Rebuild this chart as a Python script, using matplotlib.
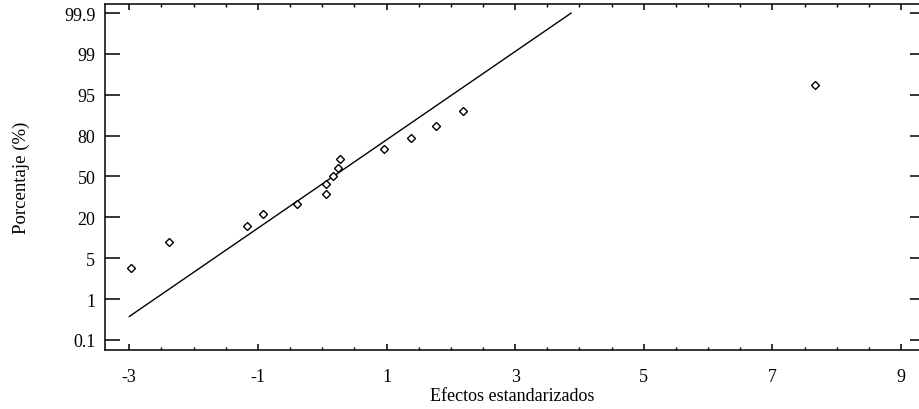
import numpy as np
import matplotlib
matplotlib.use('Agg')
import matplotlib.pyplot as plt
from matplotlib.ticker import MultipleLocator, NullLocator
from statistics import NormalDist

# efectos estandarizados y su porcentaje acumulado
efectos = [-2.98, -2.38, -1.165, -0.92, -0.40, 0.06, 0.06, 0.17, 0.25, 0.27,
           0.955, 1.38, 1.77, 2.195, 7.665]
porcentajes = [3.5, 9.2, 15.4, 21.7, 28.6, 35.6, 43.6, 50.0, 57.0, 64.4,
               71.4, 78.6, 84.8, 90.8, 96.5]
# recta de referencia
recta_x = [-3.0, 3.87]
recta_y = [0.4, 99.9]
marcas_y = [0.1, 1, 5, 20, 50, 80, 95, 99, 99.9]
etiquetas_y = ['0.1', '1', '5', '20', '50', '80', '95', '99', '99.9']
marcas_x = [-3, -1, 1, 3, 5, 7, 9]

plt.rcParams['font.family'] = ['Liberation Serif', 'DejaVu Serif']

# escala de probabilidad normal: las marcas quedan equiespaciadas
nd = NormalDist()
z_marcas = np.array([nd.inv_cdf(p / 100) for p in marcas_y])
pos_marcas = np.arange(len(marcas_y), dtype=float)


def a_pos(p):
    p = np.asarray(p, dtype=float)
    forma = p.shape
    p = np.clip(np.atleast_1d(p).ravel(), 1e-7, 100 - 1e-7)
    z = np.array([nd.inv_cdf(v / 100) if np.isfinite(v) else np.nan for v in p])
    pos = np.interp(z, z_marcas, pos_marcas)
    bajo = z < z_marcas[0]
    pos[bajo] = (z[bajo] - z_marcas[0]) / (z_marcas[1] - z_marcas[0])
    alto = z > z_marcas[-1]
    pos[alto] = pos_marcas[-1] + (z[alto] - z_marcas[-1]) / (z_marcas[-1] - z_marcas[-2])
    return pos.reshape(forma)


def a_pct(q):
    q = np.asarray(q, dtype=float)
    forma = q.shape
    q = np.atleast_1d(q).ravel()
    z = np.interp(q, pos_marcas, z_marcas)
    bajo = q < 0
    z[bajo] = z_marcas[0] + q[bajo] * (z_marcas[1] - z_marcas[0])
    alto = q > pos_marcas[-1]
    z[alto] = z_marcas[-1] + (q[alto] - pos_marcas[-1]) * (z_marcas[-1] - z_marcas[-2])
    p = np.array([nd.cdf(v) * 100 if np.isfinite(v) else np.nan for v in z])
    return p.reshape(forma)


fig = plt.figure(figsize=(9.19, 4.10), dpi=100)
ax = fig.add_axes([105 / 919, 59.3 / 410, 820 / 919, 346 / 410])
ax.set_yscale('function', functions=(a_pos, a_pct))

ax.plot(recta_x, recta_y, color='black', lw=1.0)
ax.plot(efectos, porcentajes, linestyle='none', marker='D', markersize=4,
        markerfacecolor='white', markeredgecolor='black', markeredgewidth=1.0)

ax.set_xlim(-3.378, 9.373)
ax.set_ylim(float(a_pct(-0.24)), float(a_pct(8.23)))
ax.set_xticks(marcas_x)
ax.set_xticklabels([str(m) for m in marcas_x])
ax.xaxis.set_minor_locator(MultipleLocator(0.5))
ax.set_yticks(marcas_y)
ax.set_yticklabels(etiquetas_y)
ax.yaxis.set_minor_locator(NullLocator())

ax.tick_params(axis='y', which='both', direction='in', left=True, right=True,
               length=10.8, width=1.1, pad=7, labelsize=13)
ax.tick_params(axis='x', which='major', direction='in', top=True, bottom=True,
               length=4.3, width=1.1, pad=13, labelsize=13)
ax.tick_params(axis='x', which='minor', direction='in', top=True, bottom=True,
               length=2.2, width=1.0)
for s in ax.spines.values():
    s.set_linewidth(1.1)

ax.set_xlabel('Efectos estandarizados', fontsize=13)
ax.xaxis.set_label_coords(0.497, -0.108)
ax.set_ylabel('Porcentaje (%)', fontsize=13.5)
ax.yaxis.set_label_coords(-0.091, 0.5)

fig.savefig('out.png', dpi=100)
